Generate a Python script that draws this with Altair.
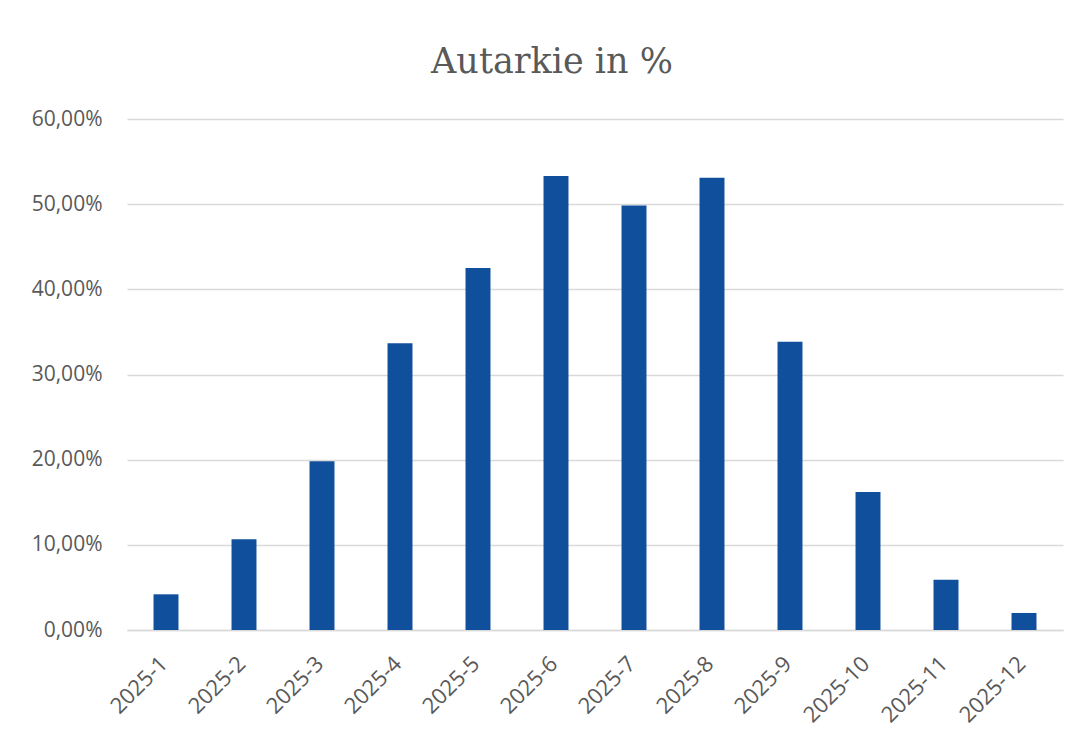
import altair as alt
import pandas as pd

months = ["2025-1", "2025-2", "2025-3", "2025-4", "2025-5", "2025-6",
          "2025-7", "2025-8", "2025-9", "2025-10", "2025-11", "2025-12"]
autarkie = [4.19, 10.65, 19.8, 33.66, 42.5, 53.3, 49.85, 53.1, 33.85, 16.2, 5.9, 2.0]
y_ticks = [0, 10, 20, 30, 40, 50, 60]

df = pd.DataFrame({"Monat": months, "Autarkie": autarkie})

label_color = "#595959"
grid_color = "#D9D9D9"

chart = alt.Chart(df).mark_bar(color="#104F9C").encode(
    x=alt.X("Monat:N", sort=months, title=None,
            scale=alt.Scale(paddingInner=0.68, paddingOuter=0.34),
            axis=alt.Axis(labelAngle=-45, labelAlign="right", labelBaseline="middle",
                          ticks=False, domain=True,
                          domainColor=grid_color, domainWidth=1.5,
                          labelFont="Open Sans", labelFontSize=22,
                          labelColor=label_color, labelPadding=30, labelOffset=-2)),
    y=alt.Y("Autarkie:Q", title=None,
            scale=alt.Scale(domain=[0, 60], nice=False),
            axis=alt.Axis(values=y_ticks, ticks=False, domain=False,
                          grid=True, gridColor=grid_color, gridWidth=1.3,
                          labelFont="Open Sans", labelFontSize=21,
                          labelColor=label_color, labelPadding=25,
                          labelExpr="replace(format(datum.value, '.2f'), '.', ',') + '%'")),
).properties(
    width=936,
    height=511,
    title=alt.TitleParams("Autarkie in %", font="DejaVu Serif", fontSize=35,
                          fontWeight="normal", color=label_color,
                          anchor="middle", dx=-43, offset=0,
                          baseline="alphabetic"),
    padding={"left": 119, "top": 111, "right": 15, "bottom": 100},
    autosize=alt.AutoSizeParams(type="none"),
).configure_view(stroke=None)

chart.save("out.html", embed_options={"renderer": "svg", "actions": False})
